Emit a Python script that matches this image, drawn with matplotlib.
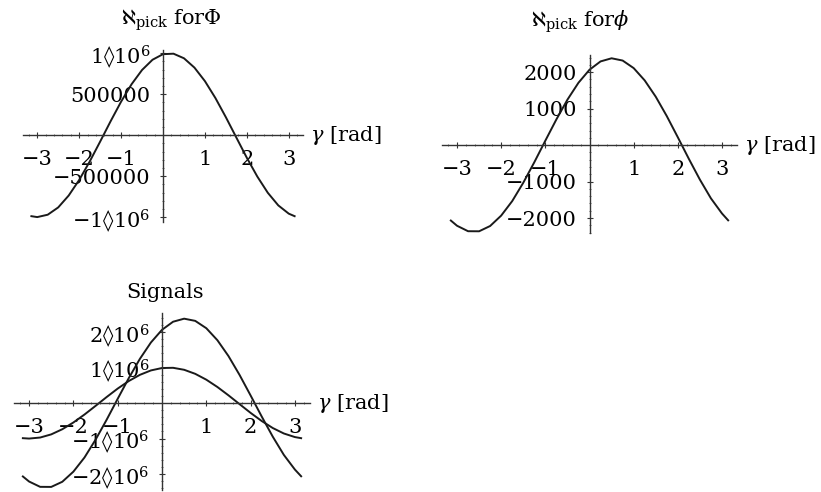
import matplotlib
matplotlib.use('Agg')
import matplotlib.pyplot as plt
from matplotlib.ticker import FixedLocator, FixedFormatter, MultipleLocator
import matplotlib.transforms as mtransforms

plt.rcParams['font.family'] = ['DejaVu Serif']
plt.rcParams['mathtext.fontset'] = 'dejavuserif'

# phase angle samples [rad]
gamma = [-3.14, -3.0, -2.75, -2.5, -2.25, -2.0, -1.75, -1.5, -1.25, -1.0, -0.75, -0.5, -0.25,
         0.0, 0.25, 0.5, 0.75, 1.0, 1.25, 1.5, 1.75, 2.0, 2.25, 2.5, 2.75, 3.0, 3.14]

# pick-up for Phi
pick_Phi = [-989e3, -1000e3, -971e3, -882e3, -737e3, -547e3, -323e3, -79e3, 170e3, 409e3,
            622e3, 796e3, 921e3, 989e3, 995e3, 939e3, 825e3, 660e3, 454e3, 219e3, -29e3,
            -276e3, -505e3, -703e3, -857e3, -958e3, -989e3]

# pick-up for phi
pick_phi = [-2068, -2211, -2361, -2363, -2218, -1933, -1535, -1033, -471, 121, 704, 1245,
            1709, 2066, 2294, 2380, 2318, 2111, 1773, 1326, 795, 214, -378, -947, -1461,
            -1875, -2063]

# phi signal on the same scale as Phi
signal_phi = [v * 1000 for v in pick_phi]

x_ticks = [-3, -2, -1, 1, 2, 3]
x_labels = ['\u22123', '\u22122', '\u22121', '1', '2', '3']

yt_Phi = [-1e6, -5e5, 5e5, 1e6]
yl_Phi = ['\u22121\u25ca10$^{6}$', '\u2212500000', '500000', '1\u25ca10$^{6}$']
yt_phi = [-2000, -1000, 1000, 2000]
yl_phi = ['\u22122000', '\u22121000', '1000', '2000']
yt_sig = [-2e6, -1e6, 1e6, 2e6]
yl_sig = ['\u22122\u25ca10$^{6}$', '\u22121\u25ca10$^{6}$', '1\u25ca10$^{6}$', '2\u25ca10$^{6}$']

W, H = 821, 492
FS = 15


def box(left, top, right, bottom):
    # pixel box -> figure fraction
    return [left / W, 1 - bottom / H, (right - left) / W, (bottom - top) / H]


def mm_axes(fig, rect, ylim, yticks, ylabels, yminor):
    ax = fig.add_axes(rect)
    ax.patch.set_alpha(0)
    ax.set_xlim(-3.34, 3.34)
    ax.set_ylim(*ylim)
    for side in ['top', 'right']:
        ax.spines[side].set_visible(False)
    for side in ['left', 'bottom']:
        ax.spines[side].set_position('zero')
        ax.spines[side].set_linewidth(1.0)
        ax.spines[side].set_color('#333333')

    ax.xaxis.set_major_locator(FixedLocator(x_ticks))
    ax.xaxis.set_major_formatter(FixedFormatter(x_labels))
    ax.xaxis.set_minor_locator(MultipleLocator(0.2))
    ax.yaxis.set_major_locator(FixedLocator(yticks))
    ax.yaxis.set_major_formatter(FixedFormatter(ylabels))
    ax.yaxis.set_minor_locator(MultipleLocator(yminor))

    ax.tick_params(which='major', direction='inout', length=4, width=0.8,
                   color='#333333', labelsize=FS)
    ax.tick_params(which='minor', direction='inout', length=2, width=0.6, color='#555555')
    ax.tick_params(axis='x', which='major', pad=9)
    ax.tick_params(axis='y', which='major', pad=7)

    # axis label at the right end of the horizontal axis
    trans = mtransforms.blended_transform_factory(ax.transAxes, ax.transData)
    ax.annotate(r'$\gamma$ [rad]', xy=(1.0, 0), xycoords=trans, xytext=(5, 0),
                textcoords='offset points', ha='left', va='center', fontsize=FS)
    return ax


fig = plt.figure(figsize=(W / 100, H / 100), dpi=100)

# top left: pick-up for Phi
ax1 = mm_axes(fig, box(23, 50, 303, 222), (-1.06e6, 1.04e6), yt_Phi, yl_Phi, 1e5)
ax1.plot(gamma, pick_Phi, color='#1a1a1a', lw=1.4)
fig.text(171 / W, 1 - 20 / H, r'$\aleph_{\mathrm{pick}}$ for$\Phi$', ha='center', va='center', fontsize=FS)

# top right: pick-up for phi
ax2 = mm_axes(fig, box(442, 55, 737, 233), (-2410, 2470), yt_phi, yl_phi, 200)
ax2.plot(gamma, pick_phi, color='#1a1a1a', lw=1.4)
fig.text(580 / W, 1 - 22 / H, r'$\aleph_{\mathrm{pick}}$ for$\phi$', ha='center', va='center', fontsize=FS)

# bottom: both signals together
ax3 = mm_axes(fig, box(14, 313, 310, 490), (-2.45e6, 2.54e6), yt_sig, yl_sig, 2e5)
ax3.plot(gamma, pick_Phi, color='#1a1a1a', lw=1.4)
ax3.plot(gamma, signal_phi, color='#1a1a1a', lw=1.4)
fig.text(165 / W, 1 - 292 / H, 'Signals', ha='center', va='center', fontsize=FS)

fig.savefig('out.png', dpi=100)
